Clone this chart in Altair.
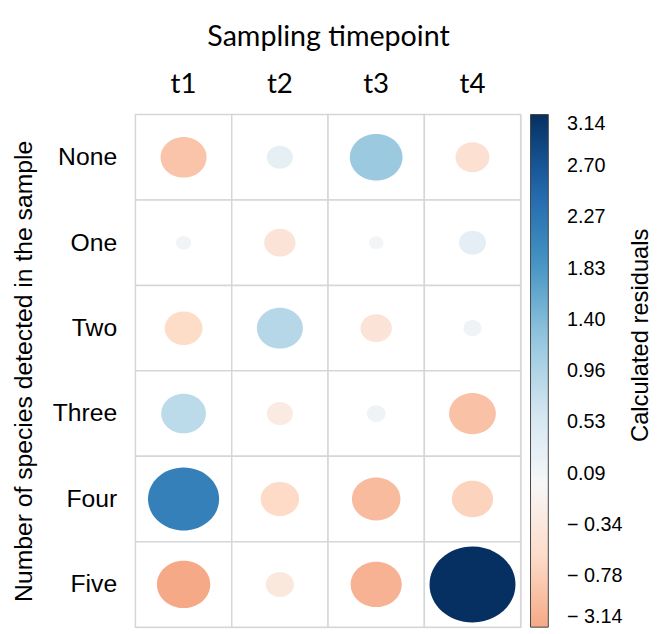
import altair as alt
import pandas as pd

timepoints = ["t1", "t2", "t3", "t4"]
species = ["None", "One", "Two", "Three", "Four", "Five"]
# residuals, one list per row (species count), columns t1..t4
res_none = [-0.90, 0.29, 1.18, -0.49]
res_one = [0.10, -0.42, 0.09, 0.31]
res_two = [-0.61, 0.90, -0.42, 0.14]
res_three = [0.85, -0.29, 0.15, -0.93]
res_four = [2.15, -0.63, -1.00, -0.72]
res_five = [-1.21, -0.34, -1.11, 3.14]

legend_values = [3.14, 2.70, 2.27, 1.83, 1.40, 0.96, 0.53, 0.09, -0.34, -0.78, -1.21]
legend_labels = ["3.14", "2.70", "2.27", "1.83", "1.40", "0.96", "0.53", "0.09",
                 "− 0.34", "− 0.78", "− 3.14"]

# RdBu colour ramp (symmetric about 0, limit 3.14), shown from the data minimum upwards
color_stops = [-1.21, -0.628, 0.0, 0.628, 1.256, 1.884, 2.512, 3.14]
color_range = ["#f5a987", "#fddbc7", "#f7f7f7", "#d1e5f0", "#92c5de",
               "#4393c3", "#2166ac", "#053061"]

rows = [res_none, res_one, res_two, res_three, res_four, res_five]
records = []
for sp, vals in zip(species, rows):
    for tp, v in zip(timepoints, vals):
        records.append({"species": sp, "time": tp, "value": v, "absval": abs(v)})
df = pd.DataFrame(records)

# label expression built from the lists
expr = "''"
for v, lab in zip(legend_values, legend_labels):
    expr = f"abs(datum.value - ({v})) < 0.005 ? '{lab}' : ({expr})"

ellipse = "M-1,0A1,0.885,0,1,1,1,0A1,0.885,0,1,1,-1,0Z"

x_enc = alt.X(
    "time:N", sort=timepoints,
    scale=alt.Scale(paddingInner=0, paddingOuter=0),
    axis=alt.Axis(orient="top", title="Sampling timepoint", titleFont="Lato",
                  titleFontSize=29, titleFontWeight="normal", titlePadding=20,
                  titleColor="#000",
                  labelFont="Lato", labelFontSize=28, labelPadding=16, labelAngle=0,
                  labelColor="#000", domain=False, ticks=False, grid=False),
)
y_enc = alt.Y(
    "species:N", sort=species,
    scale=alt.Scale(paddingInner=0, paddingOuter=0),
    axis=alt.Axis(orient="left", title="Number of species detected in the sample",
                  titleFont="Liberation Sans", titleFontSize=25,
                  titleFontWeight="normal", titlePadding=16, titleColor="#000",
                  labelFont="Liberation Sans", labelFontSize=25, labelPadding=19,
                  labelColor="#000", domain=False, ticks=False, grid=False),
)

cells = alt.Chart(df).mark_rect(fill="white", stroke="#d6d6d6", strokeWidth=1.5).encode(
    x=x_enc, y=y_enc
)

circles = alt.Chart(df).mark_point(shape=ellipse, filled=True, opacity=1, strokeWidth=0).encode(
    x=alt.X("time:N", sort=timepoints),
    y=alt.Y("species:N", sort=species,
            axis=alt.Axis(orient="right", labels=False, ticks=False, domain=False,
                          grid=False, title="Calculated residuals",
                          titleFont="Liberation Sans", titleFontSize=24,
                          titleFontWeight="normal", titleColor="#000",
                          titleAngle=270, titleBaseline="top", titleAlign="center",
                          titleY=223, titlePadding=109)),
    size=alt.Size("absval:Q", scale=alt.Scale(domain=[0, 3.14], range=[0, 7569]), legend=None),
    color=alt.Color(
        "value:Q",
        scale=alt.Scale(domain=color_stops, range=color_range, interpolate="rgb"),
        legend=alt.Legend(
            title=None, orient="none", legendX=400, legendY=0, direction="vertical",
            gradientLength=519, gradientThickness=18, gradientStrokeColor="#444",
            gradientStrokeWidth=1, padding=0,
            values=legend_values, labelExpr=expr, labelOverlap=False,
            labelFont="Liberation Sans", labelFontSize=20, labelColor="#000",
            labelOffset=19,
        ),
    ),
)

chart = alt.layer(cells, circles).resolve_axis(y="independent").properties(
    width=390, height=519,
    autosize=alt.AutoSizeParams(type="none"),
    padding={"left": 129, "top": 104, "right": 134, "bottom": 0},
).configure_view(stroke=None).configure(background="white")

chart.save("out.html", embed_options={"renderer": "svg", "actions": False})
